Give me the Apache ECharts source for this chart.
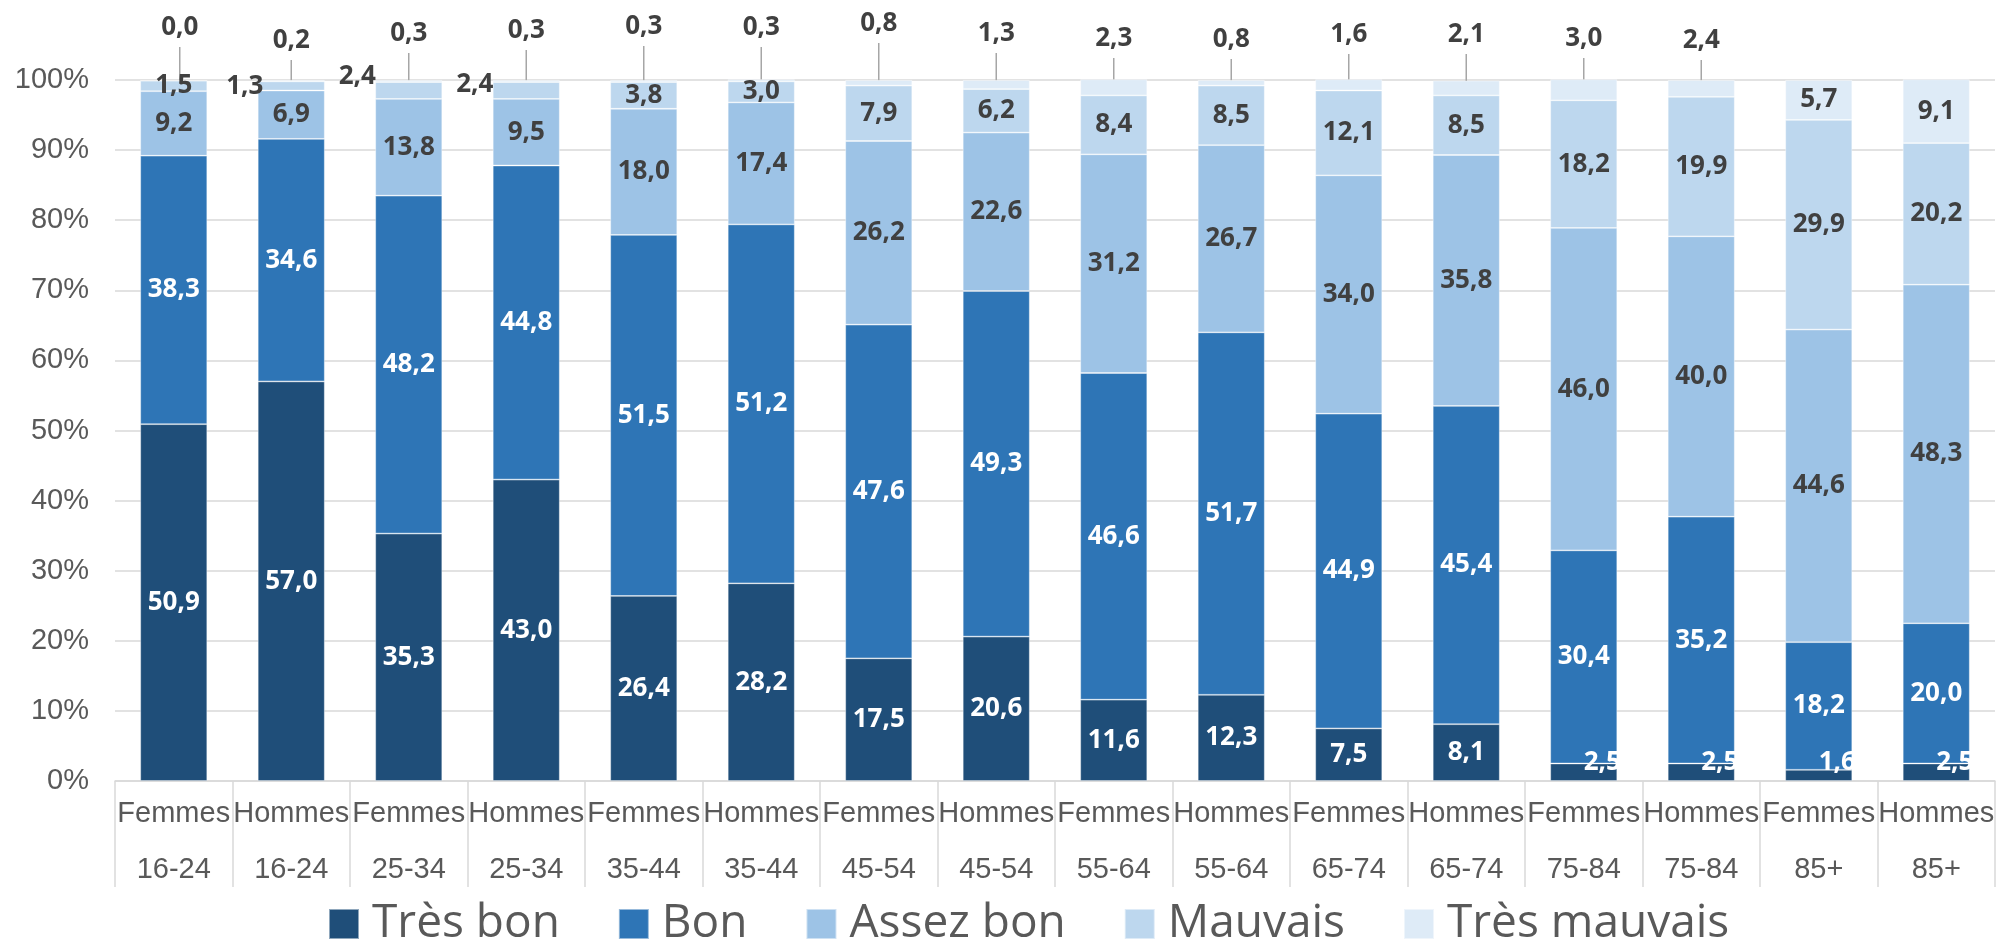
<!DOCTYPE html>
<html>
<head>
<meta charset="utf-8">
<script src="https://cdn.jsdelivr.net/npm/echarts/dist/echarts.min.js"></script>
<style>
html,body{margin:0;padding:0;background:#fff;}
#chart{width:2005px;height:944px;}
</style>
</head>
<body>
<div id="chart"></div>
<script>
// ---- Data ----
const sexes = ['Femmes','Hommes','Femmes','Hommes','Femmes','Hommes','Femmes','Hommes','Femmes','Hommes','Femmes','Hommes','Femmes','Hommes','Femmes','Hommes'];
const ages = ['16-24','16-24','25-34','25-34','35-44','35-44','45-54','45-54','55-64','55-64','65-74','65-74','75-84','75-84','85+','85+'];
const seriesNames = ['Très bon','Bon','Assez bon','Mauvais','Très mauvais'];
const tresBon   = [50.9, 57.0, 35.3, 43.0, 26.4, 28.2, 17.5, 20.6, 11.6, 12.3, 7.5, 8.1, 2.5, 2.5, 1.6, 2.5];
const bon       = [38.3, 34.6, 48.2, 44.8, 51.5, 51.2, 47.6, 49.3, 46.6, 51.7, 44.9, 45.4, 30.4, 35.2, 18.2, 20.0];
const assezBon  = [9.2, 6.9, 13.8, 9.5, 18.0, 17.4, 26.2, 22.6, 31.2, 26.7, 34.0, 35.8, 46.0, 40.0, 44.6, 48.3];
const mauvais   = [1.5, 1.3, 2.4, 2.4, 3.8, 3.0, 7.9, 6.2, 8.4, 8.5, 12.1, 8.5, 18.2, 19.9, 29.9, 20.2];
const tresMauvais = [0.0, 0.2, 0.3, 0.3, 0.3, 0.3, 0.8, 1.3, 2.3, 0.8, 1.6, 2.1, 3.0, 2.4, 5.7, 9.1];
const yTicks = [0,10,20,30,40,50,60,70,80,90,100];

// ---- Layout / style (not data) ----
const colors = ['#1F4E79','#2E75B6','#9DC3E6','#BDD7EE','#DEEBF7'];
const labelColors = ['#FFFFFF','#FFFFFF','#404040','#404040','#404040'];
const topLabelY = [22, 35, 28, 25, 21, 22, 18, 28, 33, 34, 29, 29, 33, 35]; // callout label centers
const topLabelDX = [6, 0, 0, 0, 0, 0, 0, 0, 0, 0, 0, 0, 0, 0];
const sideLabels = {1: [-13, 87], 2: [-18, 77], 3: [-18, 85]}; // Mauvais labels placed left of bar
const calloutGap = 12;

const categories = sexes.map((s, i) => s + '\n' + ages[i]);
const seriesData = [tresBon, bon, assezBon, mauvais, tresMauvais];
const fmt = v => v.toFixed(1).replace('.', ',');
const LABEL_FONT = '"Open Sans", sans-serif';
const AXIS_FONT = '"Liberation Sans", Arial, sans-serif';

function layoutFor(si) {
  return function (p) {
    const i = p.dataIndex;
    if (si === 4 && i < topLabelY.length) {
      return { x: p.rect.x + p.rect.width / 2 + topLabelDX[i], y: topLabelY[i] + calloutGap / 2, align: 'center', verticalAlign: 'middle' };
    }
    if (si === 3 && sideLabels[i]) {
      return { x: p.rect.x + sideLabels[i][0], y: sideLabels[i][1], align: 'center', verticalAlign: 'middle' };
    }
    if (si === 0 && p.rect.height < 25) {
      return { y: p.rect.y + p.rect.height - 18, verticalAlign: 'middle' };
    }
    return {};
  };
}

const series = seriesData.map((arr, si) => ({
  name: seriesNames[si],
  type: 'bar',
  stack: 'total',
  barWidth: '57%',
  clip: false,
  itemStyle: { color: colors[si], borderColor: 'rgba(255,255,255,0.5)', borderWidth: 0.8 },
  label: {
    show: true,
    position: 'inside',
    color: labelColors[si],
    fontFamily: LABEL_FONT,
    fontWeight: 'bold',
    fontSize: 26,
    formatter: p => fmt(p.value)
  },
  labelLine: { show: false, lineStyle: { color: '#A6A6A6', width: 1.5 } },
  labelLayout: layoutFor(si),
  data: arr.map((v, i) => {
    if (si === 4 && i < topLabelY.length) {
      return {
        value: v,
        label: { padding: [0, 0, calloutGap, 0], backgroundColor: 'rgba(255,255,255,0)' },
        labelLine: { show: true, lineStyle: { color: '#A6A6A6', width: 1.5 } }
      };
    }
    return v;
  })
}));

const chart = echarts.init(document.getElementById('chart'), null, { renderer: 'canvas' });
chart.setOption({
  animation: false,
  backgroundColor: '#fff',
  color: colors,
  grid: { left: 115, right: 10, top: 80, bottom: 163, containLabel: false },
  legend: {
    data: seriesNames,
    left: 323,
    top: 896,
    itemWidth: 30,
    itemHeight: 30,
    itemGap: 58,
    icon: 'rect',
    textStyle: { fontFamily: LABEL_FONT, fontSize: 46, color: '#595959', padding: [0, 0, 0, 8] }
  },
  xAxis: {
    type: 'category',
    data: categories,
    axisLine: { show: true, lineStyle: { color: '#D9D9D9', width: 1.5 } },
    axisTick: { show: true, length: 106, interval: 0, lineStyle: { color: '#D9D9D9', width: 1.5 } },
    axisLabel: { interval: 0, margin: 5, fontFamily: AXIS_FONT, fontSize: 29, lineHeight: 56, color: '#595959' }
  },
  yAxis: {
    type: 'value',
    min: yTicks[0],
    max: yTicks[yTicks.length - 1],
    interval: yTicks[1] - yTicks[0],
    axisLine: { show: false },
    axisTick: { show: false },
    splitLine: { lineStyle: { color: '#D9D9D9', width: 1.5 } },
    axisLabel: { margin: 26, fontFamily: AXIS_FONT, fontSize: 29, color: '#595959', formatter: '{value}%' }
  },
  series: series
});
</script>
</body>
</html>
